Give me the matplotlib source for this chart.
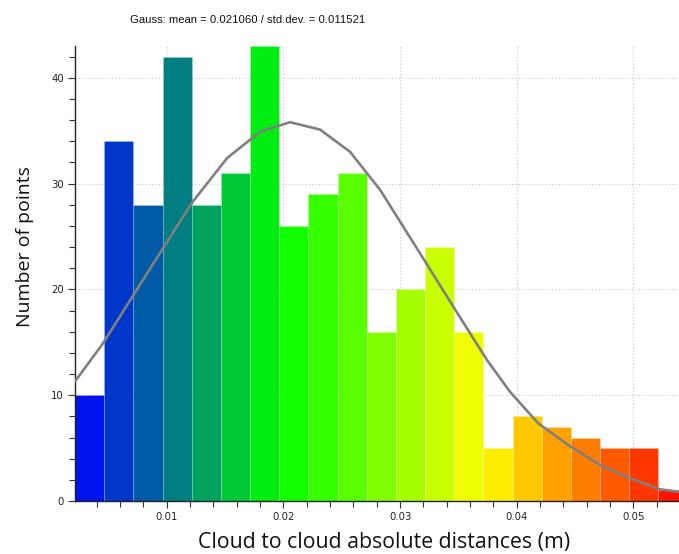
import numpy as np
import matplotlib.pyplot as plt
from matplotlib.colors import LinearSegmentedColormap
from matplotlib.ticker import MultipleLocator

# histogram of cloud-to-cloud distances
bin_start = 0.00214
bin_width = 0.0025
counts = [10, 34, 28, 42, 28, 31, 43, 26, 29, 31, 16,
          20, 24, 16, 5, 8, 7, 6, 5, 5, 1]

# gaussian fit curve (vertices)
gauss_x = [0.00214, 0.00454, 0.00711, 0.00969, 0.01217, 0.01517, 0.0180,
           0.02057, 0.02314, 0.02571, 0.02829, 0.03171, 0.03471, 0.03746,
           0.03943, 0.04183, 0.0444, 0.04714, 0.04971, 0.05229, 0.05486]
gauss_y = [11.3, 14.9, 19.4, 23.9, 28.2, 32.4, 34.9, 35.8, 35.1, 33.0, 29.4,
           23.4, 18.1, 13.3, 10.3, 7.35, 5.3, 3.4, 2.15, 1.1, 0.75]

mean = 0.021060
std_dev = 0.011521

edges = bin_start + bin_width * np.arange(len(counts) + 1)
lefts = edges[:-1]

cmap = LinearSegmentedColormap.from_list(
    "bgyr", ["#0000ff", "#00ff00", "#ffff00", "#ff0000"])
colors = [cmap((i + 0.5) / len(counts)) for i in range(len(counts))]

fig = plt.figure(figsize=(6.79, 5.54), dpi=100)
ax = fig.add_axes([75 / 679, 1 - 501 / 554, 1 - 75 / 679, (501 - 46) / 554])

ax.bar(lefts, counts, width=bin_width, align='edge', color=colors,
       edgecolor=(1, 1, 1, 0.2), linewidth=0.6, zorder=2)
ax.plot(gauss_x, gauss_y, color='#808080', lw=1.9, zorder=3, solid_joinstyle='round')

ax.set_xlim(bin_start, 0.0539)
ax.set_ylim(0, 43)

ax.xaxis.set_major_locator(MultipleLocator(0.01))
ax.xaxis.set_minor_locator(MultipleLocator(0.002))
ax.yaxis.set_major_locator(MultipleLocator(10))
ax.yaxis.set_minor_locator(MultipleLocator(2))
ax.set_xticks([0.01, 0.02, 0.03, 0.04, 0.05])
ax.set_xticklabels(['0.01', '0.02', '0.03', '0.04', '0.05'])

ax.grid(True, which='major', linestyle=(0, (1, 2)), color='#c8c8c8', lw=0.8, zorder=0)
ax.set_axisbelow(True)

for s in ['top', 'right']:
    ax.spines[s].set_visible(False)
for s in ['left', 'bottom']:
    ax.spines[s].set_color('#222222')
    ax.spines[s].set_linewidth(1.0)

ax.tick_params(which='major', length=5, width=0.8, color='#333333',
               labelsize=7.3, labelcolor='#222222', pad=3)
ax.tick_params(which='minor', length=4, width=0.8, color='#333333')

ax.set_xlabel('Cloud to cloud absolute distances (m)', fontsize=15.3,
              family=['Open Sans', 'DejaVu Sans'], color='#111111')
ax.set_ylabel('Number of points', fontsize=14,
              family=['Open Sans', 'DejaVu Sans'], color='#111111')
ax.xaxis.set_label_coords((384 - 75) / 604, -(532 - 501) / 455)
ax.yaxis.set_label_coords(-(75 - 34) / 604, (501 - 247) / 455)

fig.text(247.5 / 679, 1 - 20 / 554,
         f'Gauss: mean = {mean:.6f} / std.dev. = {std_dev:.6f}',
         ha='center', va='center', fontsize=8.1,
         family=['Liberation Sans', 'DejaVu Sans'],
         color='#111111')

fig.savefig('out.png', dpi=100)
